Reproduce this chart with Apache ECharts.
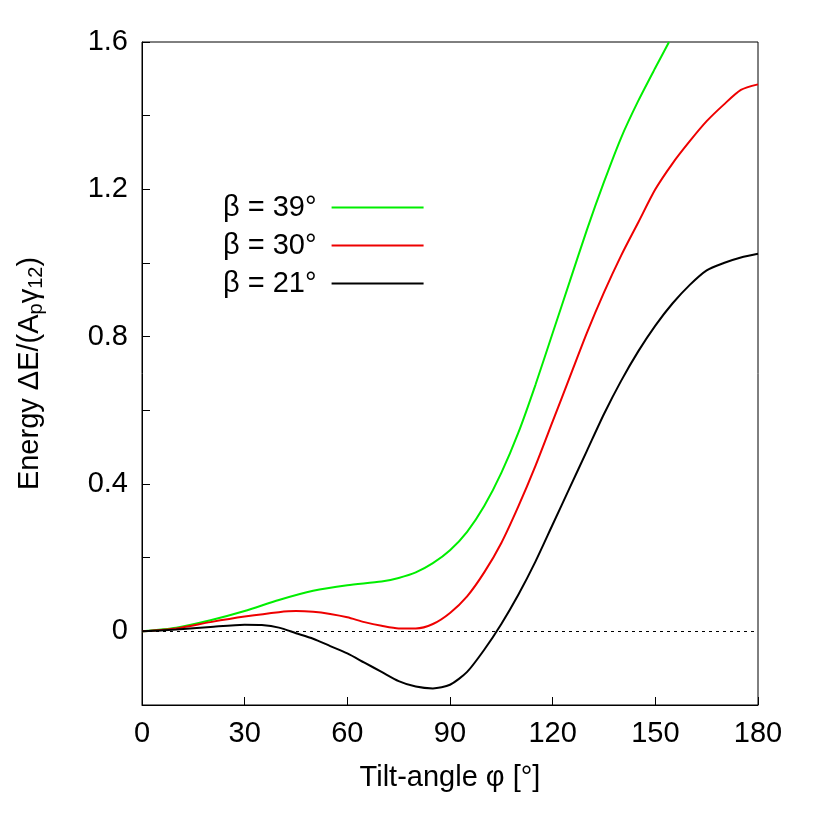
<!DOCTYPE html>
<html><head><meta charset="utf-8">
<script src="https://cdn.jsdelivr.net/npm/echarts@6/dist/echarts.min.js"></script>
<style>html,body{margin:0;background:#fff}#chart{width:822px;height:822px}</style>
</head><body><div id="chart"></div>
<script>
var green = [[0,0],[10,0.01],[20,0.03],[30,0.055],[40,0.085],[50,0.11],[60,0.125],[70,0.135],[75,0.145],[80,0.16],[85,0.185],[90,0.22],[95,0.27],[100,0.34],[105,0.43],[110,0.54],[115,0.67],[120,0.81],[125,0.95],[130,1.09],[135,1.22],[140,1.34],[145,1.44],[150,1.53],[154,1.6]];
var red = [[0,0],[10,0.008],[20,0.025],[30,0.04],[40,0.052],[45,0.055],[50,0.053],[55,0.047],[60,0.038],[65,0.025],[70,0.015],[75,0.008],[80,0.008],[85,0.02],[90,0.05],[95,0.095],[100,0.16],[105,0.24],[110,0.34],[115,0.45],[120,0.57],[125,0.69],[130,0.81],[135,0.92],[140,1.02],[145,1.11],[150,1.2],[155,1.27],[160,1.33],[165,1.385],[170,1.43],[175,1.47],[180,1.485]];
var black = [[0,0],[10,0.005],[20,0.012],[30,0.018],[35,0.017],[40,0.01],[45,-0.005],[50,-0.02],[55,-0.04],[60,-0.06],[65,-0.085],[70,-0.11],[75,-0.135],[80,-0.15],[85,-0.155],[90,-0.145],[95,-0.11],[100,-0.05],[105,0.02],[110,0.1],[115,0.19],[120,0.29],[125,0.39],[130,0.49],[135,0.59],[140,0.68],[145,0.76],[150,0.83],[155,0.89],[160,0.94],[165,0.98],[170,1.0],[175,1.015],[180,1.025]];
var names = ['β = 39°','β = 30°','β = 21°'];

var font = 'Liberation Sans, Arial, sans-serif';
function line(name, data, color) {
    return {name: name, type: 'line', data: data, showSymbol: false, smooth: 0.25,
        lineStyle: {color: color, width: 2}, itemStyle: {color: color}};
}
var s3 = line(names[2], black, '#000');
s3.markLine = {silent: true, symbol: 'none', label: {show: false},
    lineStyle: {type: [3, 4], color: '#000', width: 1}, data: [{yAxis: 0}]};

var chart = echarts.init(document.getElementById('chart'));
chart.setOption({
    animation: false,
    textStyle: {fontFamily: font},
    grid: {left: 142, right: 64, top: 42, bottom: 117, show: true, borderColor: '#000', borderWidth: 1},
    legend: {
        orient: 'vertical', left: 218, top: 188, align: 'right', itemWidth: 92, itemHeight: 10, itemGap: 9,
        icon: 'path://M0,0H1V0.02H0Z',
        textStyle: {fontSize: 29, color: '#000', fontFamily: font, padding: [0, 10, 0, 0]},
        data: names
    },
    xAxis: {
        type: 'value', min: 0, max: 180, interval: 30,
        name: 'Tilt-angle φ [°]', nameLocation: 'middle', nameGap: 58,
        nameTextStyle: {fontSize: 29, color: '#000'},
        axisLine: {onZero: false, lineStyle: {color: '#000'}},
        axisTick: {inside: true, length: 8, lineStyle: {color: '#000'}},
        axisLabel: {fontSize: 29, color: '#000', margin: 14},
        splitLine: {show: false}
    },
    yAxis: {
        type: 'value', min: -0.2, max: 1.6, interval: 0.2,
        name: '{n|Energy ΔE/(A}{s|p}{n|γ}{s|12}{n|)}', nameLocation: 'middle', nameGap: 96,
        nameTextStyle: {rich: {n: {fontSize: 29, color: '#000'}, s: {fontSize: 20, color: '#000', verticalAlign: 'bottom', padding: [12, 0, 0, 0]}}},
        axisLine: {lineStyle: {color: '#000'}},
        axisTick: {inside: true, length: 8, lineStyle: {color: '#000'}},
        axisLabel: {fontSize: 29, color: '#000', margin: 14, formatter: function (v) {
            var k = Math.round(v * 10);
            if (k < 0 || k % 4 !== 0) return '';
            return k === 0 ? '0' : (k / 10).toFixed(1);
        }},
        splitLine: {show: false}
    },
    series: [line(names[0], green, '#00ee00'), line(names[1], red, '#ee0000'), s3]
});
</script></body></html>
